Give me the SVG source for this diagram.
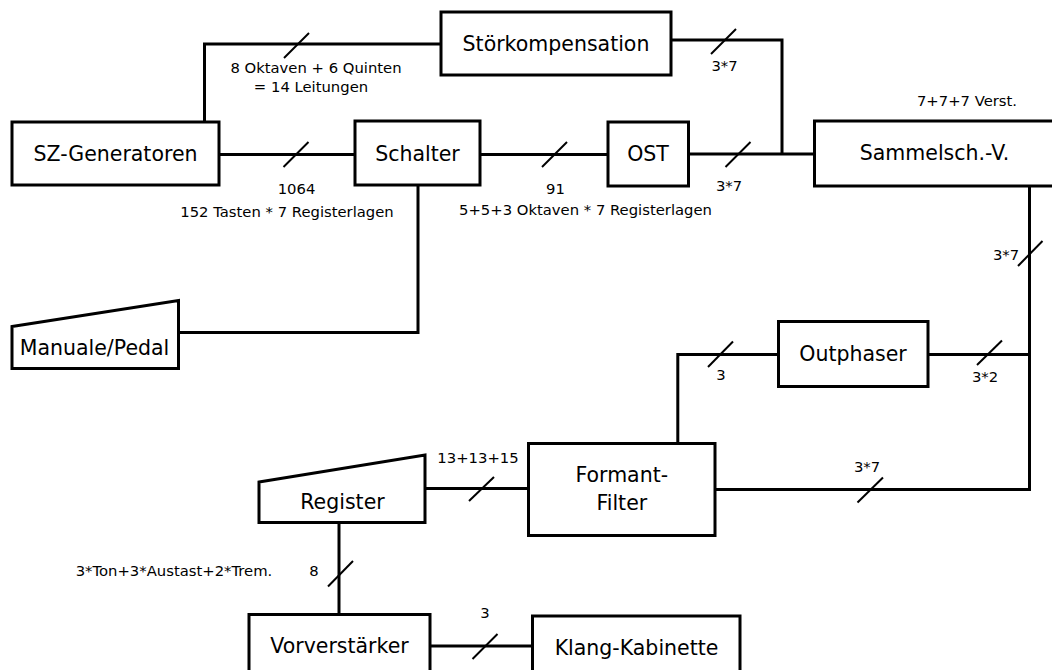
<svg xmlns="http://www.w3.org/2000/svg" width="1052" height="670" viewBox="0 0 1052 670">
<style>
.box{fill:#fff;stroke:#000;stroke-width:3}
.wire{fill:none;stroke:#000;stroke-width:3}
.tick{stroke:#000;stroke-width:2}
.nt{font-family:"DejaVu Sans",sans-serif;font-size:20.5px;fill:#000;text-anchor:middle}
.lt{font-family:"DejaVu Sans",sans-serif;font-size:14.8px;fill:#000;text-anchor:middle}
</style>
<rect width="1052" height="670" fill="#fff"/>
<g id="connectors">
<polyline class="wire" points="441,44 204.5,44 204.5,121"/>
<line class="wire" x1="219" y1="154.5" x2="355" y2="154.5"/>
<line class="wire" x1="480" y1="154.5" x2="608" y2="154.5"/>
<line class="wire" x1="688.5" y1="154" x2="814.5" y2="154"/>
<polyline class="wire" points="671,40 782,40 782,154"/>
<polyline class="wire" points="418,185 418,332.5 180,332.5"/>
<polyline class="wire" points="1029.5,186 1029.5,489.5 715,489.5"/>
<line class="wire" x1="928" y1="354.5" x2="1029.5" y2="354.5"/>
<polyline class="wire" points="778.5,354.5 677.8,354.5 677.8,442"/>
<line class="wire" x1="425" y1="488.5" x2="528.5" y2="488.5"/>
<line class="wire" x1="339" y1="522.5" x2="339" y2="614"/>
<line class="wire" x1="430" y1="646" x2="532.5" y2="646"/>
<line class="tick" x1="284" y1="58" x2="309" y2="33"/>
<line class="tick" x1="283.5" y1="167" x2="308.5" y2="142"/>
<line class="tick" x1="542" y1="167" x2="567" y2="142"/>
<line class="tick" x1="711" y1="54" x2="736" y2="29"/>
<line class="tick" x1="725.5" y1="167" x2="750.5" y2="142"/>
<line class="tick" x1="1018" y1="266" x2="1042.5" y2="241"/>
<line class="tick" x1="977" y1="365" x2="1002" y2="340.5"/>
<line class="tick" x1="708" y1="367" x2="733" y2="341.5"/>
<line class="tick" x1="857.5" y1="502.5" x2="883" y2="477.5"/>
<line class="tick" x1="469" y1="501" x2="494" y2="477"/>
<line class="tick" x1="328" y1="586.5" x2="353" y2="561"/>
<line class="tick" x1="472.5" y1="659" x2="497.5" y2="634"/>
</g>
<g id="labels">
<text class="lt" x="316" y="72.5">8 Oktaven + 6 Quinten</text>
<text class="lt" x="311" y="92">= 14 Leitungen</text>
<text class="lt" x="296.5" y="193.5">1064</text>
<text class="lt" x="287" y="217">152 Tasten * 7 Registerlagen</text>
<text class="lt" x="555.5" y="193.5">91</text>
<text class="lt" x="585.5" y="215">5+5+3 Oktaven * 7 Registerlagen</text>
<text class="lt" x="724.5" y="70.5">3*7</text>
<text class="lt" x="729" y="191">3*7</text>
<text class="lt" x="967" y="106">7+7+7 Verst.</text>
<text class="lt" x="1006" y="260">3*7</text>
<text class="lt" x="985" y="382">3*2</text>
<text class="lt" x="721" y="379.5">3</text>
<text class="lt" x="867" y="471.5">3*7</text>
<text class="lt" x="478" y="463">13+13+15</text>
<text class="lt" x="314" y="576">8</text>
<text class="lt" x="174" y="576">3*Ton+3*Austast+2*Trem.</text>
<text class="lt" x="485" y="618">3</text>
</g>
<g id="stoerkompensation">
<rect class="box" x="441" y="12" width="230" height="63"/>
<text class="nt" x="556" y="51">Störkompensation</text>
</g>
<g id="sz-generatoren">
<rect class="box" x="12" y="122" width="207" height="63"/>
<text class="nt" x="115.5" y="161">SZ-Generatoren</text>
</g>
<g id="schalter">
<rect class="box" x="355" y="121" width="125" height="64"/>
<text class="nt" x="417.5" y="160.5">Schalter</text>
</g>
<g id="ost">
<rect class="box" x="608" y="122" width="80.5" height="64"/>
<text class="nt" x="648" y="161">OST</text>
</g>
<g id="sammelsch">
<rect class="box" x="814.5" y="121" width="260" height="65"/>
<text class="nt" x="934.5" y="160">Sammelsch.-V.</text>
</g>
<g id="manuale-pedal">
<polygon class="box" points="12,326.5 178.5,300.5 178.5,368.5 12,368.5"/>
<text class="nt" x="94.5" y="355">Manuale/Pedal</text>
</g>
<g id="outphaser">
<rect class="box" x="778.5" y="321.5" width="149.5" height="65"/>
<text class="nt" x="853" y="360.5">Outphaser</text>
</g>
<g id="formant-filter">
<rect class="box" x="528.5" y="443.5" width="186.5" height="92"/>
<text class="nt" x="621.8" y="481.5">Formant-</text>
<text class="nt" x="621.8" y="510">Filter</text>
</g>
<g id="register">
<polygon class="box" points="259,482 425,455 425,522.5 259,522.5"/>
<text class="nt" x="342.5" y="509">Register</text>
</g>
<g id="vorverstaerker">
<rect class="box" x="249" y="614.5" width="181" height="70"/>
<text class="nt" x="339.5" y="653">Vorverstärker</text>
</g>
<g id="klang-kabinette">
<rect class="box" x="532.5" y="616" width="207.5" height="70"/>
<text class="nt" x="636.5" y="655">Klang-Kabinette</text>
</g>
</svg>
